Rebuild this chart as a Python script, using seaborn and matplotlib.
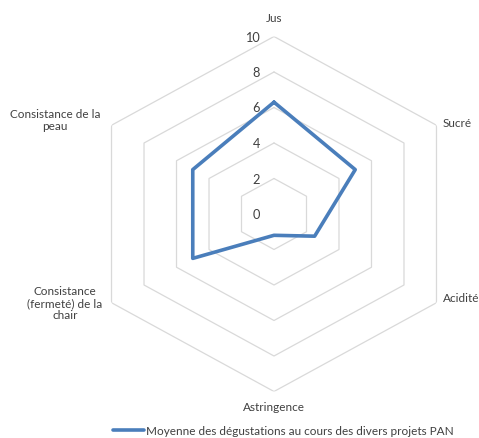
import numpy as np
import pandas as pd
import matplotlib
matplotlib.use("Agg")
import matplotlib.pyplot as plt
import seaborn as sns
from matplotlib.lines import Line2D

categories = ["Jus", "Sucré", "Acidité", "Astringence",
              "Consistance\n(fermeté) de la\nchair", "Consistance de la\npeau"]
values = [6.3, 5.0, 2.5, 1.2, 5.0, 5.0]
levels = [0, 2, 4, 6, 8, 10]
series_name = "Moyenne des dégustations au cours des divers projets PAN"

sns.set_theme(style="white")
plt.rcParams['font.family'] = ['Lato', 'DejaVu Sans']

W, H = 479, 439
fig = plt.figure(figsize=(W / 100, H / 100), dpi=100)
cx, cy, R = 274, 215, 177.5
Rx = R * 1.057
ax = fig.add_axes([(cx - Rx) / W, (H - cy - R) / H, 2 * Rx / W, 2 * R / H],
                  projection="polar")
ax.set_aspect("auto")
ax.set_theta_zero_location("N")
ax.set_theta_direction(-1)
ax.set_ylim(0, 10)
ax.grid(False)
ax.spines["polar"].set_visible(False)
ax.set_xticks([])
ax.set_yticks([])
ax.patch.set_alpha(0)

n = len(categories)
theta = np.linspace(0, 2 * np.pi, n, endpoint=False)
theta_c = np.append(theta, theta[0])

grid_col = "#d9d9d9"
for lv in levels[1:]:
    ax.plot(theta_c, [lv] * (n + 1), color=grid_col, lw=0.9, zorder=1)

df = pd.DataFrame({"theta": theta_c, "value": values + values[:1]})
line_col = "#4A7EBB"
sns.lineplot(data=df, x="theta", y="value", sort=False, estimator=None, ax=ax,
             color=line_col, lw=2.6, zorder=3, legend=False)
ax.set_xlabel("")
ax.set_ylabel("")

fs = 8.5
for lv in levels:
    ax.annotate(str(lv), xy=(0, lv), xytext=(-14, 0), textcoords="offset pixels",
                ha="right", va="center", fontsize=9.2, color="#404040")

offsets = [(0, 19, "center"), (6, 3, "left"), (6, 5, "left"),
           (0, -15, "center"), (-9, 0, "right"), (-11, 6, "right")]
for t, lab, (dx, dy, ha) in zip(theta, categories, offsets):
    ax.annotate(lab, xy=(t, 10), xytext=(dx, dy), textcoords="offset pixels",
                ha=ha, va="center", multialignment="center",
                fontsize=fs, color="#404040", linespacing=1.1)

handle = Line2D([], [], color=line_col, lw=2.6)
fig.legend([handle], [series_name], loc="center",
           bbox_to_anchor=(283 / W, 1 - 432 / H), frameon=False,
           fontsize=fs, handlelength=2.7, handletextpad=0.1,
           labelcolor="#404040", borderpad=0)

fig.savefig("out.png", dpi=100)
